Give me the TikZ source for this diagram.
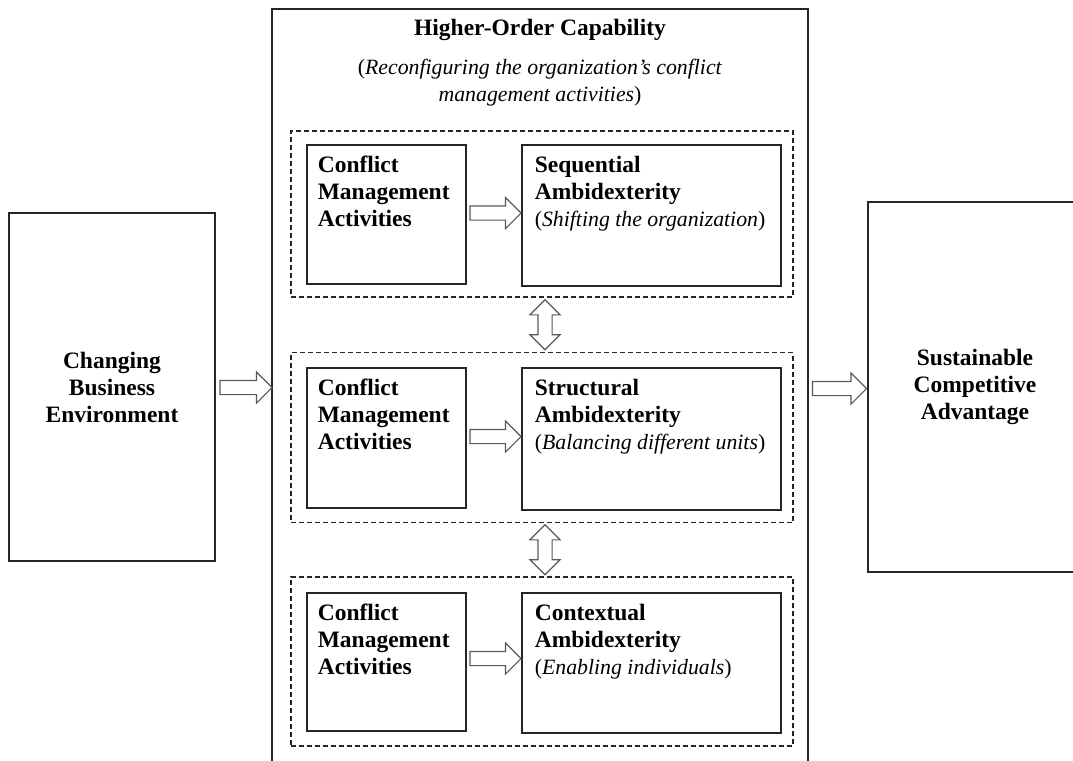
\documentclass[tikz,border=0pt]{standalone}
\usepackage{fontspec}
\setmainfont{Liberation Serif}
\usetikzlibrary{shapes.arrows,calc}
\newcommand{\subnote}[1]{{\fontsize{10.9}{13.5}\selectfont#1}}

\begin{document}
\begin{tikzpicture}[x=0.5pt,y=-0.5pt,
    every node/.style={font=\fontsize{11.75}{13.5}\selectfont},
    box/.style={draw=black!85, line width=0.6pt, inner sep=0pt},
    group/.style={draw=black!85, line width=0.55pt, dash pattern=on 2.5pt off 1.5pt, inner sep=0pt},
    txt/.style={inner sep=0pt, align=left, anchor=base west},
    blockarrow/.style={single arrow, draw=black!65, line width=0.55pt, inner sep=3.25pt,
        minimum width=15pt, single arrow head extend=4.25pt},
    twoway/.style={double arrow, draw=black!65, line width=0.55pt, inner sep=3.25pt,
        minimum width=14.5pt, double arrow head extend=4pt, shape border rotate=90}]
    \useasboundingbox (0,0) rectangle (1073,761);

    % outer boxes
    \begin{scope}[every node/.style={box, align=center, font=\fontsize{11.75}{13.5}\selectfont\bfseries}]
        \node (env) [minimum width=103pt, minimum height=174pt] at (112,387) {Changing\\Business\\Environment};
        \node (hoc) [minimum width=268pt, minimum height=383pt] at (540,392) {};
        \node (sca) [minimum width=107pt, minimum height=185pt] at (975,387) {Sustainable\\Competitive\\Advantage};
    \end{scope}

    \node (title) [anchor=base, font=\fontsize{11.75}{13.5}\selectfont\bfseries] at (540,35) {Higher-Order Capability};
    \node (sub) [anchor=base, align=center] at (540,101) {\subnote{(\textit{Reconfiguring the organization’s conflict}}\\\subnote{\textit{management activities})}};

    % dashed groups
    \begin{scope}[every node/.style={group, minimum width=251pt}]
        \node (grp1) [minimum height=83pt] at (542,214) {};
        \node (grp2) [minimum height=85pt] at (542,437.5) {};
        \node (grp3) [minimum height=84.5pt] at (542,661.5) {};
    \end{scope}

    % inner boxes
    \begin{scope}[every node/.style={box}]
        \node (cma1) [minimum width=79.5pt, minimum height=69.5pt] at (386.5,214.5) {};
        \node (cma2) [minimum width=79.5pt, minimum height=70pt] at (386.5,438) {};
        \node (cma3) [minimum width=79.5pt, minimum height=69pt] at (386.5,662) {};
        \node (amb1) [minimum width=129.5pt, minimum height=70.5pt] at (651.5,215.5) {};
        \node (amb2) [minimum width=129.5pt, minimum height=71pt] at (651.5,439) {};
        \node (amb3) [minimum width=129.5pt, minimum height=70pt] at (651.5,663) {};
    \end{scope}

    % box texts (base = last line)
    \begin{scope}[every node/.style={txt, font=\fontsize{11.75}{13.5}\selectfont}]
        \node (c1) at ($(cma1.north west)+(11,82)$) {\textbf{Conflict}\\\textbf{Management}\\\textbf{Activities}};
        \node (c2) at ($(cma2.north west)+(11,82)$) {\textbf{Conflict}\\\textbf{Management}\\\textbf{Activities}};
        \node (c3) at ($(cma3.north west)+(11,82)$) {\textbf{Conflict}\\\textbf{Management}\\\textbf{Activities}};
        \node (s1) at ($(amb1.north west)+(13,82)$) {\textbf{Sequential}\\\textbf{Ambidexterity}\\\subnote{(\textit{Shifting the organization})}};
        \node (s2) at ($(amb2.north west)+(13,82)$) {\textbf{Structural}\\\textbf{Ambidexterity}\\\subnote{(\textit{Balancing different units})}};
        \node (s3) at ($(amb3.north west)+(13,82)$) {\textbf{Contextual}\\\textbf{Ambidexterity}\\\subnote{(\textit{Enabling individuals})}};
    \end{scope}

    % block arrows
    \node (a0) [blockarrow, minimum height=26pt] at ($(env.east)!0.5!(hoc.west)+(-1,-2)$) {};
    \node (a4) [blockarrow, minimum height=27pt] at ($(hoc.east)!0.5!(sca.west)+(-2,-1)$) {};
    \node (a1) [blockarrow, minimum height=25.5pt] at ($(cma1.east)!0.5!(amb1.west)+(-2,-2)$) {};
    \node (a2) [blockarrow, minimum height=25.5pt] at ($(cma2.east)!0.5!(amb2.west)+(-2,-2)$) {};
    \node (a3) [blockarrow, minimum height=25.5pt] at ($(cma3.east)!0.5!(amb3.west)+(-2,-4)$) {};
    \node (d1) [twoway, minimum height=25pt] at ($(grp1.south)!0.5!(grp2.north)+(3,0)$) {};
    \node (d2) [twoway, minimum height=25pt] at ($(grp2.south)!0.5!(grp3.north)+(3,0)$) {};
\end{tikzpicture}
\end{document}
